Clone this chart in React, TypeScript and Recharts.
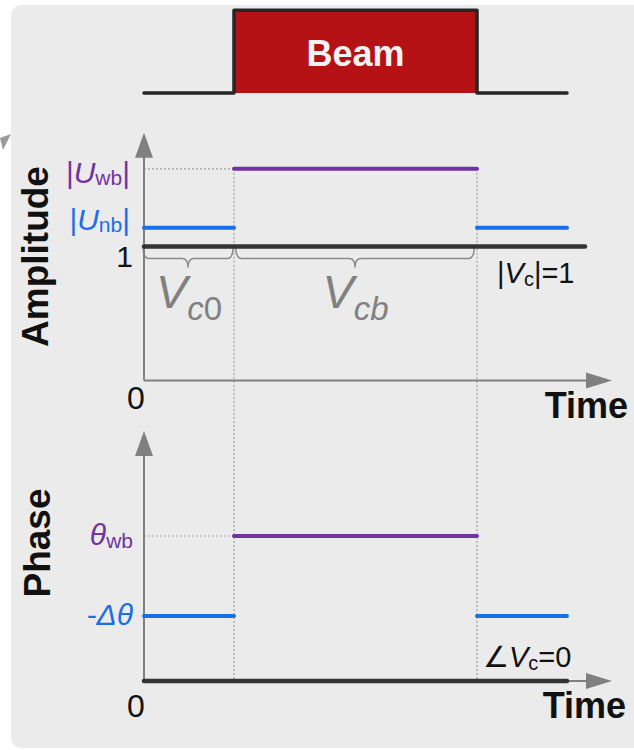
import React from "react"
import {
  LineChart, Line, XAxis, YAxis,
  ReferenceLine, ReferenceArea, ReferenceDot,
} from "recharts"

// time marks (arb. units): trace start, beam on, beam off, trace end
const times = [0, 10, 37, 47]
const vcEnd = 49     // |Vc| trace runs a little past the others
const timeTip = 52   // tip of the time arrow

const beamLevels = [0, 1]          // beam off, beam on
const ampLevels = [1, 1.14, 1.58]  // |Vc|, |Unb|, |Uwb|
const phaseLevels = [0, 13, 29]    // ∠Vc, -Δθ, θwb (deg)

const ampTop = 1.85
const phaseTop = 50

const FONT = '"Liberation Sans", Arial, Helvetica, sans-serif'
const BLUE = "#1a6fe8"
const PURPLE = "#7233a2"
const DARK = "#333333"
const AXIS = "#808080"
const DOT = "#a0a0a0"
const BRACE = "#8a8a8a"
const RED = "#b41215"

const W = 630
const X_DOMAIN: [number, number] = [-16, 54]

type Pt = { t: number; v: number | null }

const beamData: Pt[] = [
  { t: times[0], v: beamLevels[0] },
  { t: times[1], v: beamLevels[0] },
  { t: times[1], v: beamLevels[1] },
  { t: times[2], v: beamLevels[1] },
  { t: times[2], v: beamLevels[0] },
  { t: times[3], v: beamLevels[0] },
]

// level held before and after the beam, with a gap while it is on
const outside = (level: number): Pt[] => [
  { t: times[0], v: level },
  { t: times[1], v: level },
  { t: times[1], v: null },
  { t: times[2], v: level },
  { t: times[3], v: level },
]
const during = (level: number): Pt[] => [
  { t: times[1], v: level },
  { t: times[2], v: level },
]
const flat = (level: number, t1: number): Pt[] => [
  { t: times[0], v: level },
  { t: t1, v: level },
]

// shape helpers for ReferenceDot / ReferenceArea
const at = (draw: (x: number, y: number) => React.ReactNode) => (p: any) => <g>{draw(p.cx, p.cy)}</g>

const arrowUp = (p: any) => (
  <polygon points={`${p.cx},${p.cy} ${p.cx - 9},${p.cy + 25} ${p.cx + 9},${p.cy + 25}`} fill={AXIS} />
)
const arrowRight = (p: any) => (
  <polygon points={`${p.cx},${p.cy} ${p.cx - 26},${p.cy - 8} ${p.cx - 26},${p.cy + 8}`} fill={AXIS} />
)

const brace = (p: any) => {
  const { x, y, width: w, height: h } = p
  const m = h * 0.57
  const mid = x + w / 2
  const d = [
    `M${x},${y}`,
    `Q${x},${y + m} ${x + 6},${y + m}`,
    `L${mid - 6},${y + m}`,
    `Q${mid},${y + m} ${mid},${y + h}`,
    `Q${mid},${y + m} ${mid + 6},${y + m}`,
    `L${x + w - 6},${y + m}`,
    `Q${x + w},${y + m} ${x + w},${y}`,
  ].join(" ")
  return <path d={d} fill="none" stroke={BRACE} strokeWidth={1.5} />
}

const title = (text: string, bx: number, cy: number) => (
  <text
    x={bx} y={cy} transform={`rotate(-90 ${bx} ${cy})`}
    textAnchor="middle" fontSize={37} fontWeight={700} fill="#111"
  >{text}</text>
)

function BeamChart() {
  return (
    <LineChart width={W} height={124} margin={{ top: 0, right: 0, bottom: 0, left: 0 }}>
      <XAxis type="number" dataKey="t" domain={X_DOMAIN} allowDataOverflow hide />
      <YAxis type="number" domain={[-0.4, 1.1]} allowDataOverflow hide />
      <ReferenceArea
        x1={times[1]} x2={times[2]} y1={beamLevels[0]} y2={beamLevels[1]}
        fill={RED} fillOpacity={1} stroke="none"
        label={{ value: "Beam", position: "center", fill: "#f2f2f2", fontSize: 36, fontWeight: 700, fontFamily: FONT, dy: 2 }}
      />
      <Line
        data={beamData} dataKey="v" stroke="#262626" strokeWidth={3.5}
        strokeLinejoin="round" strokeLinecap="round" dot={false} isAnimationActive={false}
      />
    </LineChart>
  )
}

function AmplitudeChart() {
  const [vc, unb, uwb] = ampLevels
  return (
    <LineChart width={W} height={308} margin={{ top: 0, right: 0, bottom: 0, left: 0 }}>
      <XAxis type="number" dataKey="t" domain={X_DOMAIN} allowDataOverflow hide />
      <YAxis type="number" domain={[-0.4, 1.9]} allowDataOverflow hide />

      {/* guides */}
      <ReferenceLine segment={[{ x: times[0], y: uwb }, { x: times[1], y: uwb }]} stroke={DOT} strokeWidth={1.2} strokeDasharray="2 2" />
      <ReferenceLine segment={[{ x: times[1], y: uwb }, { x: times[1], y: -0.3 }]} stroke={DOT} strokeWidth={1.2} strokeDasharray="2 2" />
      <ReferenceLine segment={[{ x: times[2], y: uwb }, { x: times[2], y: -0.3 }]} stroke={DOT} strokeWidth={1.2} strokeDasharray="2 2" />

      {/* axes with arrow heads */}
      <ReferenceLine segment={[{ x: 0, y: 0 }, { x: 0, y: ampTop - 0.1 }]} stroke={AXIS} strokeWidth={2} />
      <ReferenceLine segment={[{ x: 0, y: 0 }, { x: timeTip - 2, y: 0 }]} stroke={AXIS} strokeWidth={2} />
      <ReferenceDot x={0} y={ampTop} r={0} shape={arrowUp} />
      <ReferenceDot x={timeTip} y={0} r={0} shape={arrowRight} />

      {/* Vc0 / Vcb braces */}
      <ReferenceArea x1={-0.1} x2={times[1] - 0.1} y1={vc} y2={vc - 0.157} shape={brace} />
      <ReferenceArea x1={times[1] + 0.2} x2={times[2] - 0.3} y1={vc} y2={vc - 0.157} shape={brace} />

      <Line data={flat(vc, vcEnd)} dataKey="v" stroke={DARK} strokeWidth={4.5} strokeLinecap="round" dot={false} isAnimationActive={false} />
      <Line data={outside(unb)} dataKey="v" stroke={BLUE} strokeWidth={4} strokeLinecap="round" dot={false} isAnimationActive={false} />
      <Line data={during(uwb)} dataKey="v" stroke={PURPLE} strokeWidth={4} strokeLinecap="round" dot={false} isAnimationActive={false} />

      {/* labels */}
      <ReferenceDot x={0} y={uwb} r={0} shape={at((x, y) => (
        <text x={x - 14} y={y + 14} textAnchor="end" fontSize={30} fill={PURPLE}>
          |<tspan fontStyle="italic">U</tspan><tspan fontSize={21} dy={2}>wb</tspan><tspan dy={-2}>|</tspan>
        </text>
      ))} />
      <ReferenceDot x={0} y={unb} r={0} shape={at((x, y) => (
        <text x={x - 14} y={y + 2} textAnchor="end" fontSize={30} fill={BLUE}>
          |<tspan fontStyle="italic">U</tspan><tspan fontSize={21} dy={2}>nb</tspan><tspan dy={-2}>|</tspan>
        </text>
      ))} />
      <ReferenceDot x={0} y={vc} r={0} shape={at((x, y) => (
        <text x={x - 11} y={y + 20} textAnchor="end" fontSize={30} fill="#111">1</text>
      ))} />
      <ReferenceDot x={0} y={0} r={0} shape={at((x, y) => (
        <text x={x - 8} y={y + 29} textAnchor="middle" fontSize={32} fill="#111">0</text>
      ))} />
      <ReferenceDot x={timeTip} y={0} r={0} shape={at((x, y) => (
        <text x={x + 16} y={y + 38} textAnchor="end" fontSize={36} fontWeight={700} fill="#111">Time</text>
      ))} />
      <ReferenceDot x={times[1] / 2} y={vc} r={0} shape={at((x, y) => (
        <text x={x} y={y + 61} textAnchor="middle" fontSize={47} fontStyle="italic" fill={AXIS}>
          V<tspan fontSize={33} dy={12}>c</tspan><tspan fontSize={33} fontStyle="normal">0</tspan>
        </text>
      ))} />
      <ReferenceDot x={(times[1] + times[2]) / 2} y={vc} r={0} shape={at((x, y) => (
        <text x={x} y={y + 61} textAnchor="middle" fontSize={47} fontStyle="italic" fill={AXIS}>
          V<tspan fontSize={33} dy={12}>cb</tspan>
        </text>
      ))} />
      <ReferenceDot x={times[2]} y={vc} r={0} shape={at((x, y) => (
        <text x={x + 20} y={y + 36} fontSize={29} fill="#111">
          |<tspan fontStyle="italic">V</tspan><tspan fontSize={20} dy={3}>c</tspan><tspan dy={-3}>|=1</tspan>
        </text>
      ))} />
      <ReferenceDot x={0} y={vc} r={0} shape={at((x, y) => title("Amplitude", x - 96, y + 10))} />
    </LineChart>
  )
}

function PhaseChart() {
  const [vc, nb, wb] = phaseLevels
  return (
    <LineChart width={W} height={329} margin={{ top: 0, right: 0, bottom: 0, left: 0 }}>
      <XAxis type="number" dataKey="t" domain={X_DOMAIN} allowDataOverflow hide />
      <YAxis type="number" domain={[-13.8, 52]} allowDataOverflow hide />

      <ReferenceLine segment={[{ x: times[0], y: wb }, { x: times[1], y: wb }]} stroke={DOT} strokeWidth={1.2} strokeDasharray="2 2" />
      <ReferenceLine segment={[{ x: times[1], y: 52 }, { x: times[1], y: 0 }]} stroke={DOT} strokeWidth={1.2} strokeDasharray="2 2" />
      <ReferenceLine segment={[{ x: times[2], y: 52 }, { x: times[2], y: 0 }]} stroke={DOT} strokeWidth={1.2} strokeDasharray="2 2" />

      <ReferenceLine segment={[{ x: 0, y: 0 }, { x: 0, y: phaseTop - 2 }]} stroke={AXIS} strokeWidth={2} />
      <ReferenceLine segment={[{ x: 0, y: 0 }, { x: timeTip - 2, y: 0 }]} stroke={AXIS} strokeWidth={2} />
      <ReferenceDot x={0} y={phaseTop} r={0} shape={arrowUp} />
      <ReferenceDot x={timeTip} y={0} r={0} shape={arrowRight} />

      <Line data={flat(vc, times[3])} dataKey="v" stroke={DARK} strokeWidth={4.5} strokeLinecap="round" dot={false} isAnimationActive={false} />
      <Line data={outside(nb)} dataKey="v" stroke={BLUE} strokeWidth={4} strokeLinecap="round" dot={false} isAnimationActive={false} />
      <Line data={during(wb)} dataKey="v" stroke={PURPLE} strokeWidth={4} strokeLinecap="round" dot={false} isAnimationActive={false} />

      <ReferenceDot x={0} y={wb} r={0} shape={at((x, y) => (
        <text x={x - 11} y={y + 9} textAnchor="end" fontSize={30} fill={PURPLE}>
          <tspan fontStyle="italic">θ</tspan><tspan fontSize={21} dy={3}>wb</tspan>
        </text>
      ))} />
      <ReferenceDot x={0} y={nb} r={0} shape={at((x, y) => (
        <text x={x - 11} y={y + 9} textAnchor="end" fontSize={30} fontStyle="italic" fill={BLUE}>-Δθ</text>
      ))} />
      <ReferenceDot x={0} y={0} r={0} shape={at((x, y) => (
        <text x={x - 8} y={y + 36} textAnchor="middle" fontSize={32} fill="#111">0</text>
      ))} />
      <ReferenceDot x={timeTip} y={0} r={0} shape={at((x, y) => (
        <text x={x + 14} y={y + 37} textAnchor="end" fontSize={36} fontWeight={700} fill="#111">Time</text>
      ))} />
      <ReferenceDot x={times[2]} y={vc} r={0} shape={at((x, y) => (
        <text x={x + 6} y={y - 14} fontSize={29} fill="#111">
          ∠<tspan fontStyle="italic">V</tspan><tspan fontSize={20} dy={3}>c</tspan><tspan dy={-3}>=0</tspan>
        </text>
      ))} />
      <ReferenceDot x={0} y={nb} r={0} shape={at((x, y) => title("Phase", x - 94, y - 73))} />
    </LineChart>
  )
}

export default function App() {
  return (
    <div style={{ position: "absolute", left: 0, top: 0, width: 634, height: 750, overflow: "hidden", background: "#fff", fontFamily: FONT }}>
      <svg width={20} height={160} style={{ position: "absolute", left: 0, top: 0 }}>
        <polygon points="0,138 11,134 3,150" fill="#9a9a9a" />
      </svg>
      <div style={{ position: "absolute", left: 11, top: 5, width: 640, height: 743, background: "#ebebeb", borderRadius: 10 }} />
      <div style={{ position: "absolute", left: 0, top: 2 }}><BeamChart /></div>
      <div style={{ position: "absolute", left: 0, top: 421 }}><PhaseChart /></div>
      <div style={{ position: "absolute", left: 0, top: 126 }}><AmplitudeChart /></div>
    </div>
  )
}
